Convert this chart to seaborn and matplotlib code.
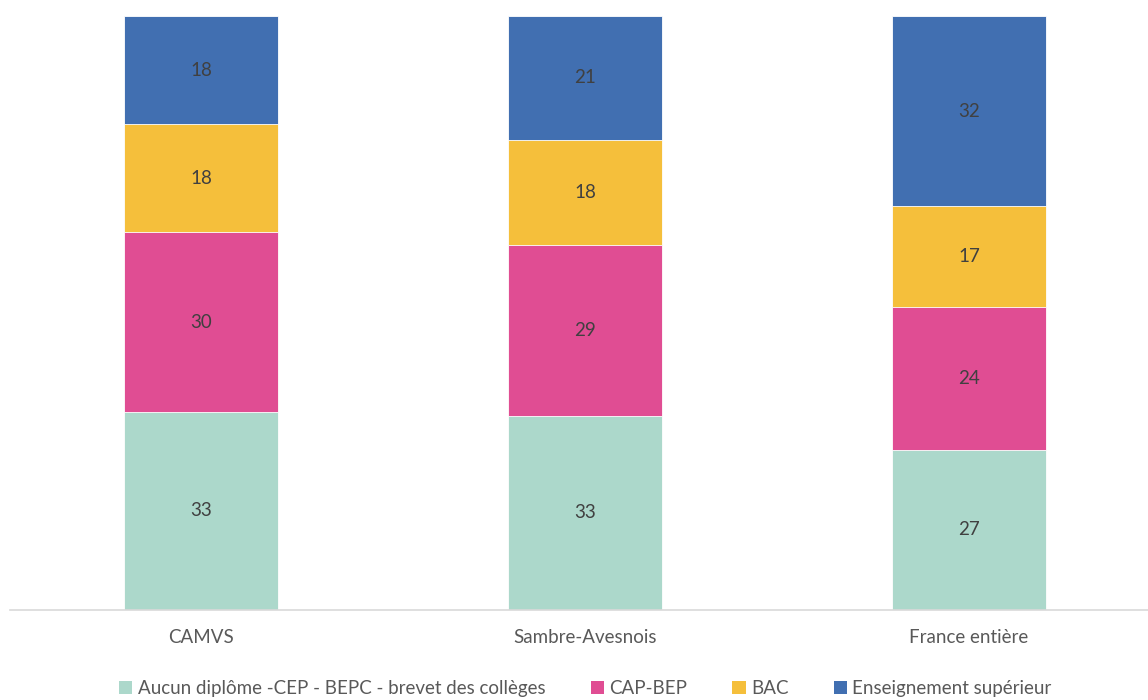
import numpy as np
import pandas as pd
import matplotlib
matplotlib.use("Agg")
import matplotlib.pyplot as plt
from matplotlib.patches import Patch
import seaborn as sns

# Data (percentages, as shown on the chart)
territories = ["CAMVS", "Sambre-Avesnois", "France entière"]
series = ["Aucun diplôme -CEP - BEPC - brevet des collèges", "CAP-BEP", "BAC",
          "Enseignement supérieur"]
aucun = [33, 33, 27]
cap_bep = [30, 29, 24]
bac = [18, 18, 17]
superieur = [18, 21, 32]

colors = ["#ACD8CB", "#E04D93", "#F5BF3B", "#416FB1"]

sns.set_theme(style="white")
plt.rcParams["font.family"] = ["Lato", "DejaVu Sans"]

values = np.array([aucun, cap_bep, bac, superieur], dtype=float)
shares = values / values.sum(axis=0)  # 100% stacked
cum = np.cumsum(shares, axis=0)

fig = plt.figure(figsize=(11.48, 7.0), dpi=100)
ax = fig.add_axes([10 / 1148, 1 - 610 / 700, 1138 / 1148, 594 / 700])

# draw from the top of the stack down so lower segments overlay
for i in range(len(series) - 1, -1, -1):
    df = pd.DataFrame({"territoire": territories, "val": cum[i]})
    sns.barplot(data=df, x="territoire", y="val", color=colors[i], width=0.40,
                saturation=1, ax=ax, edgecolor="white", linewidth=0.6)

for j in range(len(territories)):
    for i in range(len(series)):
        mid = cum[i, j] - shares[i, j] / 2
        ax.text(j, mid, f"{int(values[i, j])}", ha="center", va="center",
                fontsize=13.5, color="#404040")

ax.set_xlim(-0.497, 2.466)
ax.set_ylim(0, 1.0)
ax.set_xlabel("")
ax.set_ylabel("")
ax.set_yticks([])
for s in ["top", "right", "left"]:
    ax.spines[s].set_visible(False)
ax.spines["bottom"].set_color("#D9D9D9")
ax.spines["bottom"].set_linewidth(1.2)
ax.tick_params(axis="x", length=0, labelsize=13.5, labelcolor="#595959", pad=14)

handles = [Patch(facecolor=c, edgecolor="none") for c in colors]
fig.legend(handles, series, loc="lower center", ncol=4, frameon=False,
           bbox_to_anchor=(0.51, -0.02), fontsize=13.5, labelcolor="#595959",
           handlelength=0.7, handleheight=0.7, handletextpad=0.3,
           columnspacing=2.4)

fig.savefig("out.png", dpi=100)
plt.close(fig)
